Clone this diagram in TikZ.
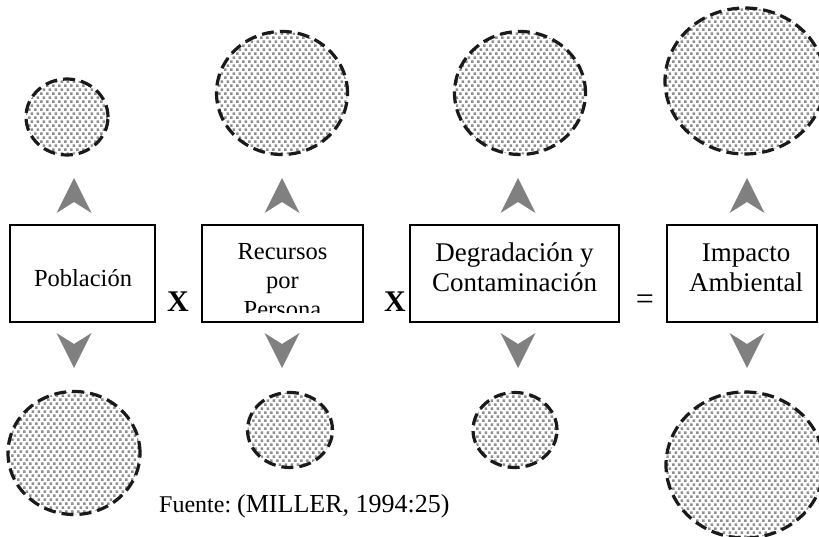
\documentclass[tikz,border=0pt]{standalone}
\usepackage{graphicx}
\usepackage{fontspec}
\setmainfont{Liberation Serif}
\usetikzlibrary{shapes.geometric,patterns}
\definecolor{headgray}{HTML}{808080}
\definecolor{dotgray}{HTML}{8E8E8E}
\definecolor{rimcol}{HTML}{1A1A1A}
\pgfdeclarepatternformonly{stipple}{\pgfqpoint{0pt}{0pt}}{\pgfqpoint{5.6pt}{8.4pt}}{\pgfqpoint{5.6pt}{8.4pt}}{%
  \pgfpathrectangle{\pgfqpoint{0.1pt}{0.1pt}}{\pgfqpoint{2.8pt}{2.8pt}}%
  \pgfpathrectangle{\pgfqpoint{2.9pt}{4.3pt}}{\pgfqpoint{2.6pt}{2.8pt}}%
  \pgfusepath{fill}%
}
\begin{document}
\begin{tikzpicture}[x=1pt,y=-1pt,
  box/.style={draw=black, line width=1.6pt, rectangle, inner sep=0pt, outer sep=0pt, minimum height=97pt},
  blob/.style={ellipse, draw=rimcol, line width=3.2pt, dash pattern=on 12pt off 6pt,
    pattern=stipple, pattern color=dotgray, inner sep=0pt, outer sep=0pt},
  lbl/.style={inner sep=0pt, anchor=base},
  smallfont/.style={font=\fontsize{24.5}{29}\selectfont},
  bigfont/.style={font=\fontsize{27}{32}\selectfont},
  opfont/.style={font=\fontsize{30}{34}\selectfont\bfseries},
  uphead/.pic={\fill[headgray] (0,0) -- (17.5,35) -- (0,24) -- (-17.5,35) -- cycle;},
  downhead/.pic={\fill[headgray] (0,0) -- (17.5,-35) -- (0,-24) -- (-17.5,-35) -- cycle;}
]
\clip (0,0) rectangle (819,537);
\fill[white] (0,0) rectangle (819,537);

% boxes
\node[box, minimum width=145pt] (b1) at (82.5,273.5) {};
\node[box, minimum width=161pt] (b2) at (282.5,273.5) {};
\node[box, minimum width=209pt] (b3) at (514.5,273.5) {};
\node[box, minimum width=150pt] (b4) at (742,273.5) {};

% box texts
\node[lbl, smallfont] (p1) at (83,287) {Población};
\begin{scope}
  \clip (202,225) rectangle (363,312);
  \node[lbl, smallfont] (r1) at (282.5,260) {Recursos};
  \node[lbl, smallfont] (r2) at (282.5,289) {por};
  \node[lbl, smallfont] (r3) at (282.5,317) {Persona};
\end{scope}
\node[lbl, bigfont] (g1) at (514.5,262) {Degradación y};
\node[lbl, bigfont] (g2) at (514.5,292) {Contaminación};
\node[lbl, bigfont] (i1) at (746,262) {Impacto};
\node[lbl, bigfont] (i2) at (746,291) {Ambiental};

% operators
\node[lbl, opfont] (x1) at (178,312) {X};
\node[lbl, opfont] (x2) at (395,312) {X};
\node[lbl, font=\fontsize{32}{36}\selectfont] (eq) at (645,309) {=};

% top blobs
\node[blob, minimum width=82pt, minimum height=76pt] (t1) at (67,117) {};
\node[blob, minimum width=131pt, minimum height=123pt] (t2) at (282,93) {};
\node[blob, minimum width=131pt, minimum height=123pt] (t3) at (520,93) {};
\node[blob, minimum width=160pt, minimum height=146pt] (t4) at (745,81) {};

% bottom blobs
\node[blob, minimum width=132pt, minimum height=123pt] (d1) at (74,453) {};
\node[blob, minimum width=85pt, minimum height=75pt] (d2) at (290,430) {};
\node[blob, minimum width=84pt, minimum height=75pt] (d3) at (515,430) {};
\node[blob, minimum width=158pt, minimum height=146pt] (d4) at (745,465) {};

% arrowheads
\pic at (74,178) {uphead};
\pic at (282,178) {uphead};
\pic at (518,178) {uphead};
\pic at (747,178) {uphead};
\pic at (74,368) {downhead};
\pic at (282,368) {downhead};
\pic at (518,368) {downhead};
\pic at (747,368) {downhead};

% source
\node[inner sep=0pt, anchor=base west] (src) at (159,512)
  {\fontsize{24}{28}\selectfont Fuente:\ \fontsize{26}{31}\selectfont (MILLER, 1994:25)};
\end{tikzpicture}
\end{document}
